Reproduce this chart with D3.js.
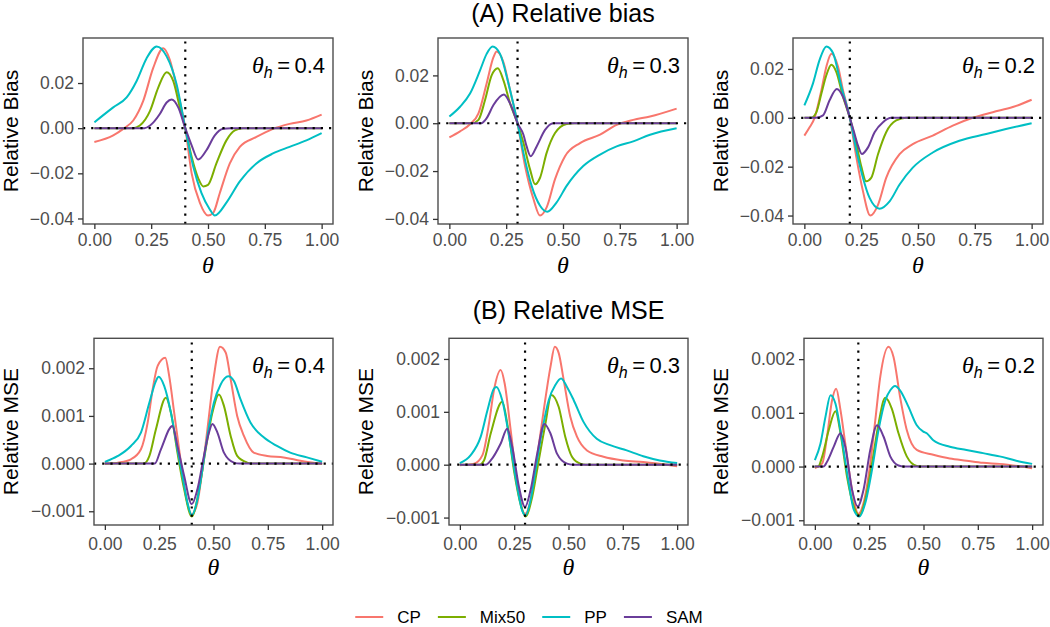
<!DOCTYPE html>
<html><head><meta charset="utf-8">
<script src="https://cdn.jsdelivr.net/npm/d3@7"></script>
<style>
body{margin:0;background:#fff}
text{font-family:"Liberation Sans",Arial,Helvetica,sans-serif}
</style>
</head><body>
<svg id="chart" width="1050" height="627"></svg>
<script>
// ---------- data ----------
const seriesNames = ["CP", "Mix50", "PP", "SAM"];
const seriesColors = ["#F8766D", "#7CAE00", "#00BFC4", "#6A3D9A"];
const thetaH = [0.4, 0.3, 0.2];
const xTicks = [0, 0.25, 0.5, 0.75, 1];
const biasTicks = [-0.04, -0.02, 0, 0.02];
const mseTicks = [-0.001, 0, 0.001, 0.002];
const rowTitles = ["(A) Relative bias", "(B) Relative MSE"];
const rowYLabels = ["Relative Bias", "Relative MSE"];

// (A) Relative bias, theta_h = 0.4
const bias04_CP = [[0,-0.0061],[0.083,-0.0032],[0.127,-0.0003],[0.171,0.0034],[0.215,0.0121],[0.259,0.0267],[0.303,0.0354],[0.332,0.0303],[0.362,0.018],[0.4,0],[0.428,-0.02],[0.464,-0.033],[0.5,-0.0387],[0.523,-0.0375],[0.552,-0.0287],[0.596,-0.0156],[0.64,-0.0083],[0.713,-0.0039],[0.786,-0.0003],[0.859,0.0019],[0.933,0.0034],[1,0.006]];
const bias04_Mix50 = [[0,0],[0.17,0],[0.2,0.0012],[0.245,0.0077],[0.281,0.018],[0.318,0.0248],[0.347,0.0209],[0.376,0.0092],[0.4,0],[0.428,-0.0127],[0.457,-0.0222],[0.479,-0.0258],[0.5,-0.0251],[0.537,-0.0156],[0.581,-0.0054],[0.618,-0.001],[0.654,0],[1,0]];
const bias04_PP = [[0,0.0026],[0.083,0.0092],[0.142,0.0136],[0.186,0.0209],[0.23,0.031],[0.274,0.0362],[0.318,0.0318],[0.362,0.0194],[0.4,0],[0.435,-0.017],[0.471,-0.0287],[0.508,-0.036],[0.53,-0.0387],[0.581,-0.033],[0.64,-0.0236],[0.713,-0.0156],[0.786,-0.0112],[0.859,-0.0083],[0.933,-0.0054],[1,-0.0022]];
const bias04_SAM = [[0,0],[0.22,0],[0.245,0.0012],[0.288,0.0063],[0.318,0.0114],[0.34,0.0127],[0.369,0.0092],[0.4,0],[0.428,-0.0076],[0.457,-0.0139],[0.493,-0.0098],[0.53,-0.0032],[0.567,-0.0003],[0.6,0],[1,0]];

// (A) Relative bias, theta_h = 0.3
const bias03_CP = [[0,-0.0059],[0.047,-0.0034],[0.091,-0.0004],[0.128,0.0041],[0.164,0.0166],[0.194,0.0276],[0.208,0.030],[0.238,0.0255],[0.267,0.0138],[0.3,0],[0.333,-0.0179],[0.37,-0.0317],[0.399,-0.0386],[0.428,-0.0352],[0.465,-0.0234],[0.509,-0.0138],[0.575,-0.0083],[0.663,-0.0048],[0.736,-0.0007],[0.809,0.0014],[0.883,0.0028],[1,0.0061]];
const bias03_Mix50 = [[0,0],[0.1,0],[0.128,0.0014],[0.157,0.0097],[0.186,0.02],[0.213,0.023],[0.238,0.0179],[0.267,0.0083],[0.3,0],[0.326,-0.0083],[0.355,-0.0193],[0.377,-0.0255],[0.399,-0.0228],[0.428,-0.0124],[0.465,-0.0041],[0.516,-0.0003],[0.55,0],[1,0]];
const bias03_PP = [[0,0.0028],[0.047,0.0069],[0.091,0.0124],[0.135,0.0221],[0.164,0.029],[0.19,0.0321],[0.223,0.029],[0.26,0.0166],[0.3,0],[0.326,-0.0124],[0.362,-0.0262],[0.399,-0.0345],[0.431,-0.037],[0.472,-0.0331],[0.516,-0.0262],[0.589,-0.0179],[0.663,-0.0131],[0.736,-0.0097],[0.809,-0.0076],[0.883,-0.0048],[1,-0.0021]];
const bias03_SAM = [[0,0],[0.14,0],[0.164,0.0021],[0.194,0.0076],[0.24,0.012],[0.267,0.0083],[0.3,0],[0.326,-0.0048],[0.34,-0.0097],[0.358,-0.0138],[0.384,-0.0097],[0.421,-0.0028],[0.457,0],[1,0]];

// (A) Relative bias, theta_h = 0.2
const bias02_CP = [[0,-0.0073],[0.023,-0.0039],[0.045,0],[0.075,0.0113],[0.097,0.021],[0.119,0.0262],[0.148,0.021],[0.17,0.0113],[0.2,0],[0.229,-0.0163],[0.258,-0.0301],[0.29,-0.0400],[0.324,-0.0356],[0.36,-0.0246],[0.419,-0.0149],[0.477,-0.0108],[0.565,-0.0073],[0.653,-0.0032],[0.741,0],[0.829,0.0023],[0.917,0.0044],[1,0.0074]];
const bias02_Mix50 = [[0,0],[0.03,0],[0.053,0.0023],[0.075,0.0099],[0.097,0.0175],[0.119,0.0217],[0.14,0.0189],[0.17,0.0086],[0.2,0],[0.229,-0.0108],[0.25,-0.0197],[0.272,-0.026],[0.294,-0.0246],[0.324,-0.0149],[0.36,-0.0059],[0.404,-0.0011],[0.448,0],[1,0]];
const bias02_PP = [[0,0.0051],[0.038,0.0141],[0.067,0.0237],[0.097,0.0292],[0.126,0.0265],[0.163,0.0127],[0.2,0],[0.229,-0.0135],[0.258,-0.0246],[0.287,-0.0328],[0.331,-0.0372],[0.375,-0.0342],[0.419,-0.0273],[0.477,-0.0204],[0.565,-0.0142],[0.682,-0.0094],[0.8,-0.0066],[0.887,-0.0046],[1,-0.0022]];
const bias02_SAM = [[0,0],[0.05,0],[0.082,0.001],[0.111,0.0072],[0.143,0.0118],[0.17,0.0086],[0.2,0],[0.221,-0.0066],[0.236,-0.0114],[0.253,-0.0148],[0.28,-0.0121],[0.309,-0.0059],[0.346,-0.0018],[0.382,0],[1,0]];

// (B) Relative MSE, theta_h = 0.4
const mse04_CP = [[0,-0.00001],[0.06,0.00002],[0.12,0.00009],[0.166,0.0003],[0.197,0.00086],[0.22,0.00156],[0.243,0.00205],[0.278,0.00222],[0.296,0.00184],[0.319,0.00107],[0.35,0.00002],[0.373,-0.00068],[0.4,-0.00106],[0.426,-0.00082],[0.449,-0.00012],[0.472,0.00072],[0.502,0.00184],[0.53,0.00245],[0.556,0.00233],[0.579,0.00177],[0.609,0.001],[0.64,0.00058],[0.685,0.00023],[0.747,0.00016],[0.823,0.00013],[0.9,0.00006],[1,-0.00001]];
const mse04_Mix50 = [[0,0],[0.18,0],[0.205,0.00016],[0.235,0.00072],[0.281,0.00138],[0.304,0.00107],[0.334,0.00023],[0.365,-0.00054],[0.4,-0.00111],[0.434,-0.00054],[0.464,0.0003],[0.495,0.00107],[0.525,0.00145],[0.548,0.00121],[0.579,0.00058],[0.609,0.00016],[0.655,0.00002],[0.68,0],[1,0]];
const mse04_PP = [[0,0.000035],[0.06,0.00016],[0.12,0.00037],[0.166,0.00065],[0.205,0.00128],[0.235,0.00173],[0.247,0.00182],[0.273,0.00163],[0.304,0.00107],[0.334,0.0003],[0.357,-0.00026],[0.38,-0.00082],[0.4,-0.00108],[0.426,-0.00075],[0.449,-0.00012],[0.472,0.00058],[0.502,0.00128],[0.533,0.00166],[0.568,0.00183],[0.594,0.00173],[0.624,0.00135],[0.67,0.00086],[0.731,0.00055],[0.792,0.00037],[0.853,0.00023],[0.93,0.00013],[1,0.00004]];
const mse04_SAM = [[0,0],[0.23,0],[0.258,0.0003],[0.311,0.00079],[0.334,0.00037],[0.365,-0.00026],[0.4,-0.00085],[0.426,-0.00054],[0.456,0.00016],[0.479,0.00065],[0.495,0.00083],[0.518,0.00065],[0.548,0.00023],[0.594,0.00002],[0.62,0],[1,0]];

// (B) Relative MSE, theta_h = 0.3
const mse03_CP = [[0,-0.00001],[0.066,0.00002],[0.104,0.00018],[0.134,0.00078],[0.157,0.00141],[0.188,0.00179],[0.206,0.00154],[0.234,0.00065],[0.264,-0.00036],[0.3,-0.00093],[0.325,-0.00068],[0.356,0.00015],[0.386,0.00103],[0.417,0.00185],[0.437,0.00223],[0.455,0.00211],[0.478,0.0016],[0.508,0.00091],[0.539,0.00053],[0.585,0.00027],[0.661,0.00015],[0.753,0.00008],[0.844,0.00005],[1,-0.00003]];
const mse03_Mix50 = [[0,0],[0.09,0],[0.111,0.00008],[0.142,0.00059],[0.195,0.00119],[0.218,0.00078],[0.249,-0.00011],[0.279,-0.00074],[0.302,-0.00098],[0.333,-0.00061],[0.363,0.00008],[0.394,0.00078],[0.421,0.00132],[0.455,0.00109],[0.485,0.00053],[0.516,0.00015],[0.554,0.00002],[0.58,0],[1,0]];
const mse03_PP = [[0,0.00003],[0.05,0.00018],[0.096,0.00053],[0.127,0.00103],[0.157,0.00144],[0.168,0.00147],[0.195,0.00122],[0.234,0.00034],[0.264,-0.00042],[0.287,-0.00087],[0.302,-0.00096],[0.325,-0.00068],[0.348,-0.00011],[0.379,0.00065],[0.409,0.00122],[0.44,0.00151],[0.466,0.00163],[0.493,0.00147],[0.524,0.00122],[0.569,0.00081],[0.63,0.00049],[0.692,0.00037],[0.768,0.00027],[0.844,0.00016],[0.92,0.00008],[1,0.00003]];
const mse03_SAM = [[0,0],[0.12,0],[0.142,0.00008],[0.188,0.0004],[0.218,0.00068],[0.241,0.00034],[0.272,-0.00042],[0.3,-0.0008],[0.325,-0.00049],[0.356,0.00021],[0.389,0.00077],[0.417,0.00059],[0.447,0.00021],[0.493,0.00002],[0.52,0],[1,0]];

// (B) Relative MSE, theta_h = 0.2
const mse02_CP = [[0,-0.00003],[0.034,0.00006],[0.056,0.00056],[0.079,0.00123],[0.098,0.00145],[0.118,0.00105],[0.14,0.00043],[0.171,-0.00043],[0.2,-0.00088],[0.224,-0.00068],[0.255,0.00006],[0.278,0.00086],[0.301,0.00167],[0.339,0.00223],[0.362,0.00204],[0.392,0.0013],[0.423,0.00068],[0.469,0.00031],[0.545,0.00022],[0.621,0.00015],[0.698,0.00011],[0.774,0.00007],[0.85,0.00005],[1,-0.00003]];
const mse02_Mix50 = [[0,0],[0.015,0],[0.034,0.00019],[0.064,0.00068],[0.095,0.00103],[0.118,0.00062],[0.148,-0.00019],[0.179,-0.00074],[0.205,-0.00091],[0.232,-0.00062],[0.263,0.00006],[0.293,0.0008],[0.324,0.00128],[0.354,0.00108],[0.385,0.00062],[0.423,0.00019],[0.469,0.00001],[0.49,0],[1,0]];
const mse02_PP = [[0,0.00012],[0.026,0.00043],[0.049,0.00093],[0.072,0.00133],[0.095,0.00117],[0.125,0.00049],[0.156,-0.00031],[0.179,-0.0008],[0.205,-0.00093],[0.232,-0.00068],[0.263,-0.00006],[0.293,0.00068],[0.324,0.00123],[0.347,0.00142],[0.369,0.0015],[0.392,0.00142],[0.431,0.00111],[0.469,0.00077],[0.499,0.00065],[0.515,0.00062],[0.545,0.00049],[0.621,0.00037],[0.698,0.00031],[0.774,0.00025],[0.85,0.00019],[0.927,0.00011],[1,0.00005]];
const mse02_SAM = [[0,0],[0.04,0],[0.056,0.00009],[0.087,0.00037],[0.118,0.00062],[0.14,0.00037],[0.171,-0.00043],[0.197,-0.00074],[0.224,-0.00043],[0.255,0.00031],[0.286,0.00077],[0.316,0.00056],[0.347,0.00019],[0.385,0.00002],[0.41,0],[1,0]];

// ---------- assemble panels ----------
const panelData = [
  [[bias04_CP, bias04_Mix50, bias04_PP, bias04_SAM],
   [bias03_CP, bias03_Mix50, bias03_PP, bias03_SAM],
   [bias02_CP, bias02_Mix50, bias02_PP, bias02_SAM]],
  [[mse04_CP, mse04_Mix50, mse04_PP, mse04_SAM],
   [mse03_CP, mse03_Mix50, mse03_PP, mse03_SAM],
   [mse02_CP, mse02_Mix50, mse02_PP, mse02_SAM]]
];
const rowTicks = [biasTicks, mseTicks];
const rowFormats = [d3.format(".2f"), d3.format(".3f")];

// ---------- layout ----------
const colX = [0, 355, 710];
const rowBox = [
  {left: 83, right: 333, top: 38, bottom: 224, titleY: 22, xPad: 5, xTitle: 49},
  {left: 94, right: 333, top: 338.3, bottom: 525, titleY: 319, xPad: 8, xTitle: 50}
];
const svg = d3.select("#chart");
const tickCol = "#333333", labCol = "#4D4D4D";

panelData.forEach((row, r) => {
  const box = rowBox[r];
  row.forEach((series, c) => {
    const L = colX[c] + box.left, R = colX[c] + box.right;
    const x = d3.scaleLinear().domain([-0.05, 1.05]).range([L, R]);
    const all = series.flat().map(d => d[1]);
    const lo = d3.min(all), hi = d3.max(all), pad = (hi - lo) * 0.05;
    const y = d3.scaleLinear().domain([lo - pad, hi + pad]).range([box.bottom, box.top]);
    const g = svg.append("g");

    const clipId = `clip-${r}-${c}`;
    g.append("clipPath").attr("id", clipId).append("rect")
      .attr("x", L).attr("y", box.top).attr("width", R - L).attr("height", box.bottom - box.top);

    const line = d3.line().x(d => x(d[0])).y(d => y(d[1])).curve(d3.curveMonotoneX);
    const lg = g.append("g").attr("clip-path", `url(#${clipId})`);
    series.forEach((s, i) => {
      lg.append("path").attr("d", line(s)).attr("fill", "none")
        .attr("stroke", seriesColors[i]).attr("stroke-width", 2).attr("stroke-linejoin", "round");
    });
    // reference lines
    lg.append("line").attr("x1", x(-0.05)).attr("x2", x(1.05)).attr("y1", y(0)).attr("y2", y(0))
      .attr("stroke", "#000").attr("stroke-width", 2.2).attr("stroke-dasharray", "2.2,6");
    lg.append("line").attr("x1", x(thetaH[c])).attr("x2", x(thetaH[c]))
      .attr("y1", box.bottom).attr("y2", box.top)
      .attr("stroke", "#000").attr("stroke-width", 2.2).attr("stroke-dasharray", "2.2,6");

    // border
    g.append("rect").attr("x", L).attr("y", box.top).attr("width", R - L).attr("height", box.bottom - box.top)
      .attr("fill", "none").attr("stroke", "#4D4D4D").attr("stroke-width", 1.4);

    // axes
    const xa = g.append("g").attr("transform", `translate(0,${box.bottom})`)
      .call(d3.axisBottom(x).tickValues(xTicks).tickFormat(d3.format(".2f")).tickSize(5).tickPadding(box.xPad));
    const ya = g.append("g").attr("transform", `translate(${L},0)`)
      .call(d3.axisLeft(y).tickValues(rowTicks[r]).tickFormat(rowFormats[r]).tickSize(5).tickPadding(4));
    [xa, ya].forEach(a => {
      a.select(".domain").remove();
      a.selectAll(".tick line").attr("stroke", tickCol).attr("stroke-width", 1.3);
      a.selectAll(".tick text").attr("fill", labCol).style("font-size", "17.5px")
        .style("font-family", '"Liberation Sans",Arial,sans-serif');
    });

    // axis titles
    g.append("text").attr("x", (L + R) / 2).attr("y", box.bottom + box.xTitle).attr("text-anchor", "middle")
      .style("font-family", '"Liberation Serif","Times New Roman",serif').style("font-style", "italic")
      .style("font-size", "24px").text("θ");
    g.append("text").attr("transform", `translate(${colX[c] + 18},${(box.top + box.bottom) / 2}) rotate(-90)`)
      .attr("text-anchor", "middle").style("font-size", "21px").attr("fill", "#000").text(rowYLabels[r]);

    // annotation
    const ann = g.append("text").attr("x", R - 8).attr("y", box.top + 35).attr("text-anchor", "end")
      .style("font-size", "22px");
    ann.append("tspan").style("font-family", '"Liberation Serif","Times New Roman",serif')
      .style("font-style", "italic").style("font-size", "24px").text("θ");
    ann.append("tspan").attr("dy", 5).style("font-style", "italic").style("font-size", "16px").text("h");
    ann.append("tspan").attr("dy", -5).text("\u2009=\u2009" + thetaH[c].toFixed(1));
  });
  // row title centred on the middle panel
  svg.append("text").attr("x", colX[1] + (box.left + box.right) / 2).attr("y", box.titleY)
    .attr("text-anchor", "middle").style("font-size", "25px").text(rowTitles[r]);
});

// ---------- legend ----------
const legendY = 617;
const leg = svg.append("g");
const items = [];
seriesNames.forEach((n, i) => {
  const it = leg.append("g");
  it.append("line").attr("x1", 0).attr("x2", 28).attr("y1", 0).attr("y2", 0)
    .attr("stroke", seriesColors[i]).attr("stroke-width", 2);
  const t = it.append("text").attr("x", 42).attr("y", 6)
    .style("font-size", "17px").text(n);
  const w = 42 + t.node().getComputedTextLength();
  items.push({it, w});
});
const gap = 17;
const total = d3.sum(items, d => d.w) + gap * (items.length - 1);
let pos = 529 - total / 2;
items.forEach(d => { d.it.attr("transform", `translate(${pos},${legendY})`); pos += d.w + gap; });
</script>
</body></html>
